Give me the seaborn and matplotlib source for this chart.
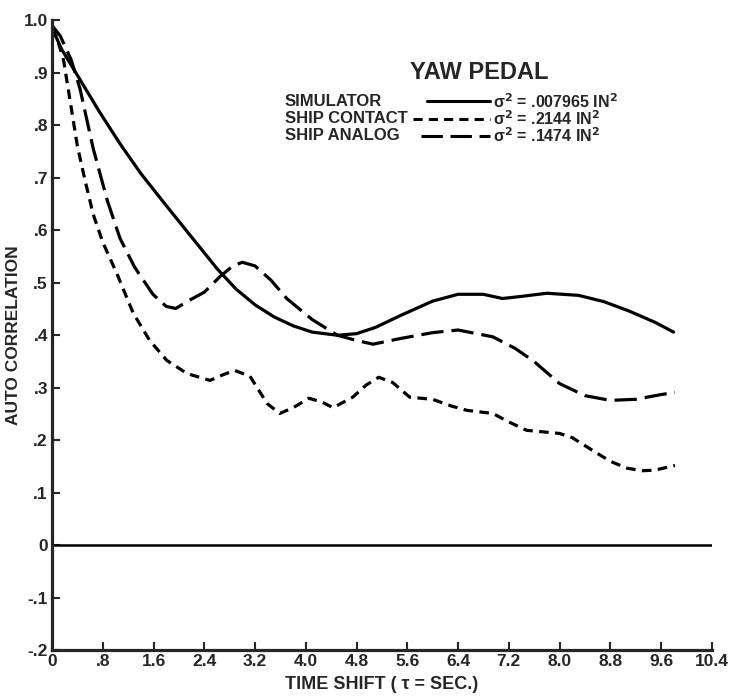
import numpy as np
import pandas as pd
import seaborn as sns
import matplotlib.pyplot as plt

# time shift (sec) and auto correlation
x_sim = [0, 0.15, 0.45, 0.75, 1.07, 1.4, 1.8, 2.2, 2.6, 2.9, 3.2, 3.5, 3.8, 4.1,
         4.5, 4.8, 5.1, 5.5, 6.0, 6.4, 6.8, 7.1, 7.4, 7.8, 8.3, 8.7, 9.1, 9.5, 9.8]
v_sim = [0.985, 0.945, 0.885, 0.825, 0.765, 0.708, 0.647, 0.587, 0.527, 0.488,
         0.458, 0.435, 0.418, 0.406, 0.40, 0.403, 0.415, 0.438, 0.465, 0.478,
         0.478, 0.47, 0.474, 0.48, 0.476, 0.464, 0.446, 0.425, 0.406]

x_con = [0, 0.08, 0.18, 0.28, 0.4, 0.52, 0.65, 0.8, 1.02, 1.28, 1.54, 1.81, 2.13,
         2.49, 2.7, 2.88, 3.12, 3.39, 3.59, 3.8, 4.05, 4.25, 4.43, 4.74, 4.95, 5.15,
         5.37, 5.64, 6.0, 6.3, 6.54, 6.95, 7.2, 7.48, 8.0, 8.2, 8.53, 8.8, 9.06, 9.3,
         9.5, 9.82]
v_con = [0.985, 0.965, 0.925, 0.85, 0.76, 0.695, 0.63, 0.577, 0.518, 0.442, 0.39,
         0.352, 0.327, 0.314, 0.325, 0.333, 0.322, 0.27, 0.251, 0.262, 0.28, 0.273,
         0.262, 0.282, 0.305, 0.32, 0.31, 0.282, 0.278, 0.265, 0.257, 0.251, 0.235,
         0.219, 0.213, 0.205, 0.18, 0.16, 0.147, 0.142, 0.143, 0.152]

x_ana = [0, 0.13, 0.3, 0.44, 0.65, 0.87, 1.07, 1.3, 1.59, 1.8, 1.95, 2.17, 2.4, 2.65,
         2.85, 3.0, 3.2, 3.45, 3.7, 4.1, 4.5, 4.8, 5.06, 5.5, 6.0, 6.4, 6.95, 7.3,
         7.6, 8.0, 8.4, 8.8, 9.2, 9.6, 9.82]
v_ana = [0.99, 0.97, 0.925, 0.87, 0.755, 0.657, 0.585, 0.53, 0.478, 0.455, 0.451,
         0.467, 0.482, 0.512, 0.532, 0.539, 0.532, 0.505, 0.47, 0.43, 0.40, 0.39,
         0.383, 0.394, 0.405, 0.41, 0.397, 0.375, 0.35, 0.308, 0.285, 0.276, 0.278,
         0.287, 0.291]

names = ['SIMULATOR', 'SHIP CONTACT', 'SHIP ANALOG']
variances = ['.007965', '.2144', '.1474']

x_ticks = [0, 0.8, 1.6, 2.4, 3.2, 4.0, 4.8, 5.6, 6.4, 7.2, 8.0, 8.8, 9.6, 10.4]
x_ticklabels = ['0', '.8', '1.6', '2.4', '3.2', '4.0', '4.8', '5.6', '6.4', '7.2',
                '8.0', '8.8', '9.6', '10.4']
y_ticks = [-0.2, -0.1, 0, 0.1, 0.2, 0.3, 0.4, 0.5, 0.6, 0.7, 0.8, 0.9, 1.0]
y_ticklabels = ['-.2', '-.1', '0', '.1', '.2', '.3', '.4', '.5', '.6', '.7', '.8',
                '.9', '1.0']

sns.set_style('ticks')
plt.rcParams['font.family'] = ['Liberation Sans', 'DejaVu Sans']
plt.rcParams['font.weight'] = 'bold'

fig = plt.figure(figsize=(7.33, 6.97), dpi=100)
ax = fig.add_axes([0.071, 0.067, 0.9, 0.904])

styles = ['-', (0, (3, 2)), (0, (7, 2.5))]
series = [(x_sim, v_sim), (x_con, v_con), (x_ana, v_ana)]
for (xs, vs), ls in zip(series, styles):
    df = pd.DataFrame({'t': xs, 'r': vs})
    sns.lineplot(data=df, x='t', y='r', ax=ax, color='black', lw=2.3,
                 linestyle=ls, estimator=None, sort=False)

ax.axhline(0, color='black', lw=1.8)

ax.set_xlim(0, 10.4)
ax.set_ylim(-0.2, 1.0)
ax.set_xticks(x_ticks)
ax.set_xticklabels(x_ticklabels)
ax.set_yticks(y_ticks)
ax.set_yticklabels(y_ticklabels)
ax.tick_params(direction='in', length=6, width=1.5, labelsize=12.5, pad=3)
for lab in ax.get_xticklabels() + ax.get_yticklabels():
    lab.set_fontweight('bold')
sns.despine(ax=ax)
ax.spines['left'].set_linewidth(2.3)
ax.spines['bottom'].set_linewidth(2.3)

ax.set_xlabel('TIME SHIFT ( τ = SEC.)', fontsize=13, fontweight='bold', labelpad=5)
ax.set_ylabel('AUTO CORRELATION', fontsize=12.5, fontweight='bold', labelpad=2)

# legend block
ax.text(0.648, 0.917, 'YAW PEDAL', transform=ax.transAxes, ha='center', va='center',
        fontsize=17, fontweight='bold')
rows_y = [0.871, 0.844, 0.817]
line_start = [0.568, 0.547, 0.56]
for name, var, ly, ls, x0 in zip(names, variances, rows_y, styles, line_start):
    ax.text(0.353, ly, name, transform=ax.transAxes, va='center', fontsize=12,
            fontweight='bold')
    ax.plot([x0, 0.664], [ly, ly], transform=ax.transAxes, color='black', lw=2.2,
            linestyle=ls)
    ax.text(0.668, ly, 'σ$^2$ = ' + var + ' IN$^2$', transform=ax.transAxes,
            va='center', fontsize=11.5, fontweight='bold')

fig.savefig('out.png', dpi=100)
